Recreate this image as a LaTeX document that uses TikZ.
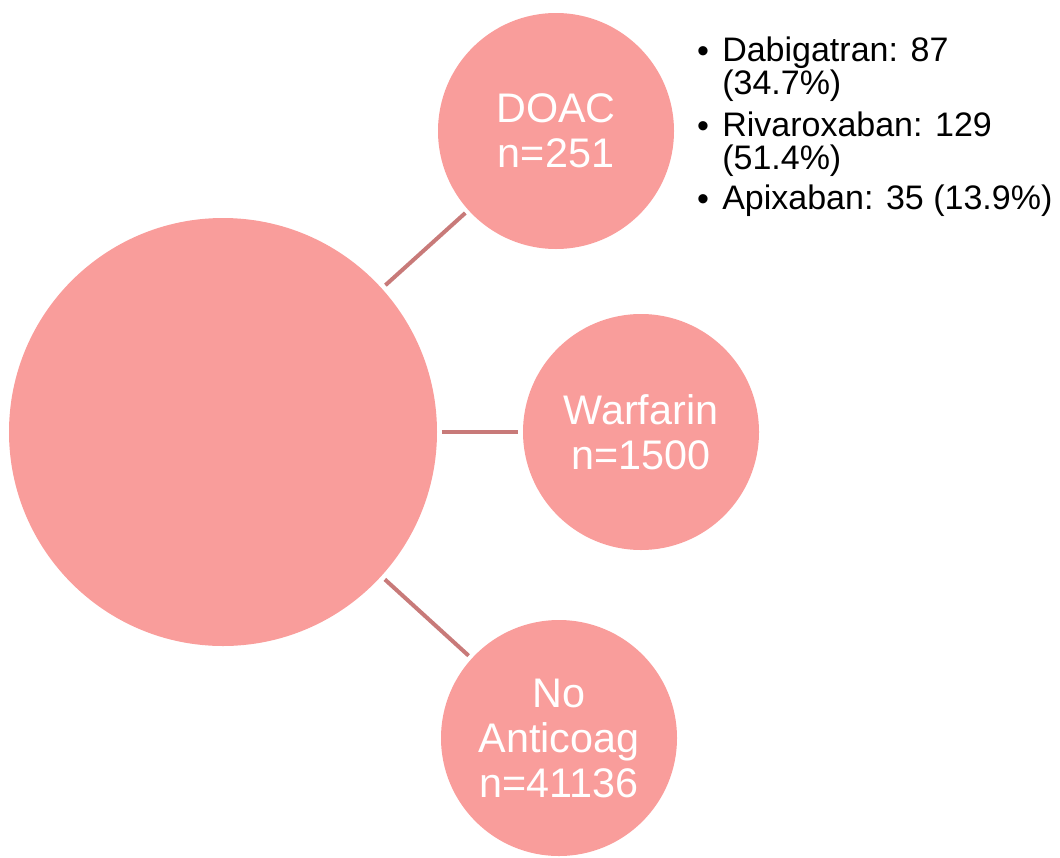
\documentclass[tikz,border=0pt]{standalone}
\usepackage{fontspec}
\setmainfont{Liberation Sans}
\definecolor{bubble}{HTML}{F99D9B}
\definecolor{link}{HTML}{C87A79}

\begin{document}
\begin{tikzpicture}[x=0.75pt, y=-0.75pt]
\useasboundingbox (0,0) rectangle (1060,857);
\tikzset{bubble/.style={shape=circle, fill=bubble, inner sep=0pt, text=white, align=center, font=\fontsize{31}{33.75}\selectfont},
  drug/.style={anchor=north west, inner sep=0pt, align=left, font=\fontsize{25.5}{24.75}\selectfont},
  dot/.style={anchor=base, inner sep=0pt, font=\fontsize{25.5}{24.75}\selectfont}}
\node[bubble, minimum size=321pt] (all) at (223,432) {};
\node[bubble, minimum size=177pt] (doac) at (556,131) {DOAC\\n=251};
\node[bubble, minimum size=177pt] (warf) at (641,432) {Warfarin\\n=1500};
\node[bubble, minimum size=177pt] (none) at (559,738) {No\\Anticoag\\n=41136};
\path [-, line width=3pt, draw=link, shorten <=3.5pt, shorten >=3pt] (all) edge (doac);
\path [-, line width=3pt, draw=link, shorten <=3.5pt, shorten >=3.5pt] (all) edge (warf);
\path [-, line width=3pt, draw=link, shorten <=3.5pt, shorten >=3pt] (all) edge (none);
\node[dot] (b1) at (703,62) {\textbullet};
\node[dot] (b2) at (703,137) {\textbullet};
\node[dot] (b3) at (703,210) {\textbullet};
\node[drug] (dabi) at (722,37) {Dabigatran: 87\\(34.7\%)};
\node[drug] (riva) at (722,112) {Rivaroxaban: 129\\(51.4\%)};
\node[drug] (apix) at (722,185) {Apixaban: 35 (13.9\%)};
\end{tikzpicture}
\end{document}
